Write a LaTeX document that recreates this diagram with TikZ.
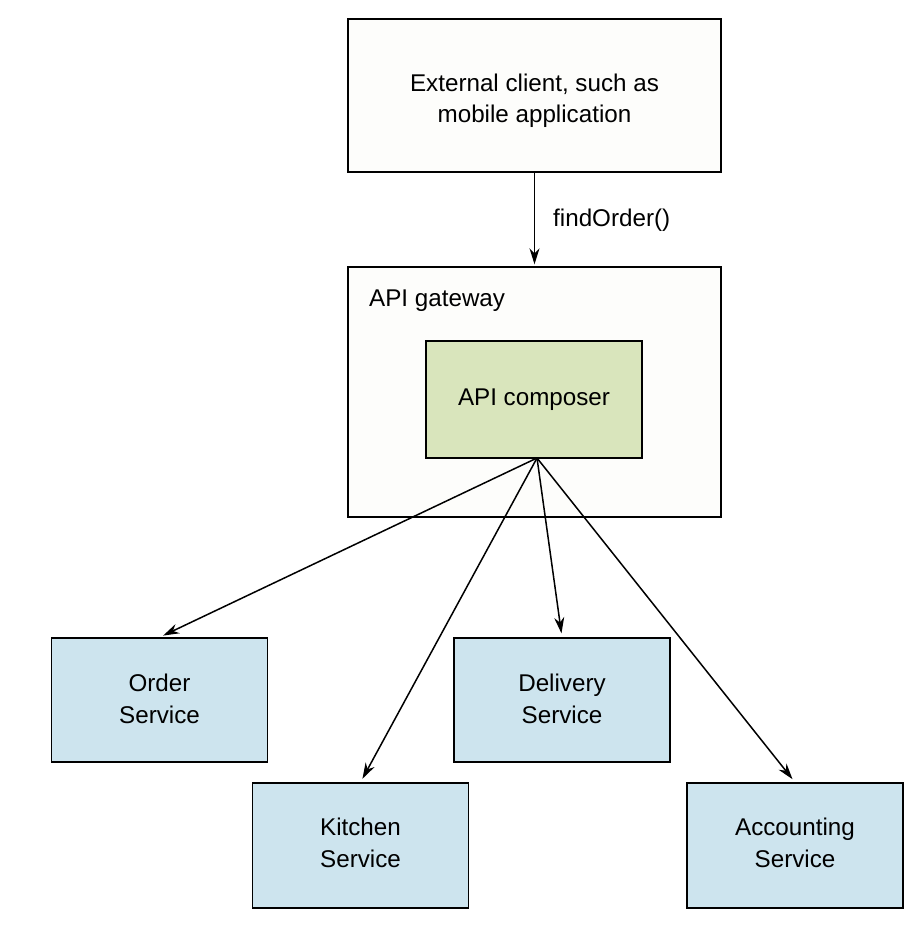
\documentclass[tikz,border=0pt]{standalone}
\usepackage{fontspec}
\setmainfont{Liberation Sans}
\usetikzlibrary{arrows.meta}
\definecolor{offwhite}{HTML}{FDFDFB}
\definecolor{compgreen}{HTML}{D9E5BC}
\definecolor{svcblue}{HTML}{CDE4EE}
\tikzset{
  box/.style={draw=black, line width=1.4pt, inner sep=0pt, align=center,
    font=\fontsize{24.2}{31.5}\selectfont},
  twoline/.style={text height=#1, text depth=0pt},
  conn/.style={-{Stealth[length=16pt,width=10pt]}, line width=1.5pt, shorten >=4pt},
  lbl/.style={font=\fontsize{24.2}{31.5}\selectfont, inner sep=0pt}
}
\begin{document}
\begin{tikzpicture}[x=1pt,y=-1pt]
\useasboundingbox (0,0) rectangle (923,941);
\node[box, twoline=55pt, fill=offwhite, minimum width=373pt, minimum height=153pt] (client) at (534.5,95.5) {External client, such as\\mobile application};
\node[box, fill=offwhite, minimum width=373pt, minimum height=250pt] (gw) at (534.5,392) {};
\node[lbl, anchor=base west] (gwlbl) at (369,306.5) {API gateway};
\node[box, fill=compgreen, minimum width=216pt, minimum height=117pt] (comp) at (534,399.5) {API composer};
\node[box, twoline=46.6pt, fill=svcblue, minimum width=216pt, minimum height=124pt] (order) at (159.5,700) {Order\\Service};
\node[box, twoline=46.6pt, fill=svcblue, minimum width=216pt, minimum height=124pt] (delivery) at (562,700) {Delivery\\Service};
\node[box, twoline=43.6pt, fill=svcblue, minimum width=216pt, minimum height=125pt] (kitchen) at (360.5,845.5) {Kitchen\\Service};
\node[box, twoline=43.6pt, fill=svcblue, minimum width=216pt, minimum height=125pt] (accounting) at (795,845.5) {Accounting\\Service};
\draw[conn, shorten >=2pt] (client.south) -- (gw.north);
\node[lbl, anchor=base west] (fo) at (553,226.5) {findOrder()};
\coordinate (src) at (537,458);
\draw[conn] (src) -- (order.north);
\draw[conn] (src) -- (kitchen.north);
\draw[conn] (src) -- (delivery.north);
\draw[conn] (src) -- (accounting.north);
\end{tikzpicture}
\end{document}
